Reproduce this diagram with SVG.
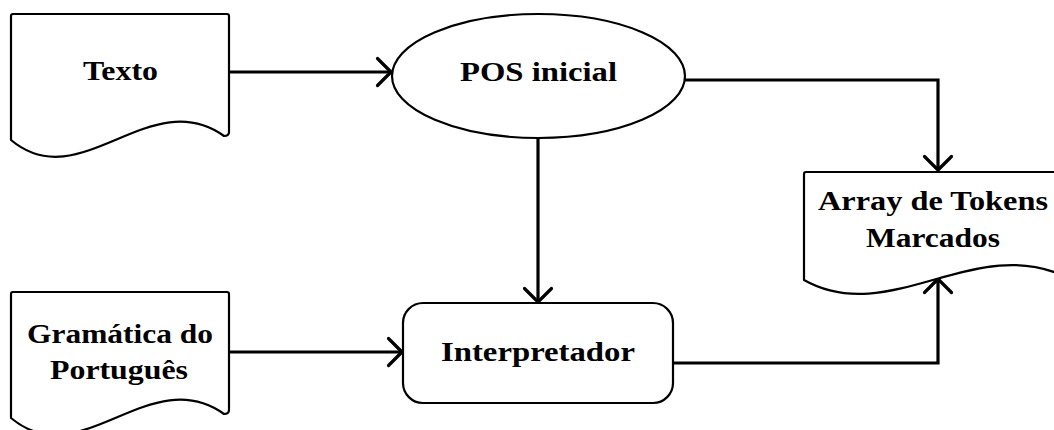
<svg xmlns="http://www.w3.org/2000/svg" width="1054" height="430" viewBox="0 0 1054 430">
<style>
.node{fill:#fff;stroke:#000;stroke-width:2.2;stroke-linejoin:round}
.lbl{font-family:"Liberation Serif","Times New Roman",serif;font-weight:bold;font-size:27px;fill:#000;text-anchor:middle}
.conn{fill:none;stroke:#000;stroke-width:3.2;stroke-linejoin:miter}
</style>
<defs>
<marker id="arr" markerUnits="userSpaceOnUse" markerWidth="40" markerHeight="40" viewBox="-20 -20 40 40" refX="0" refY="0" orient="auto" overflow="visible">
<path d="M-13.5,-13.5 L0,0 L-13.5,13.5" fill="none" stroke="#000" stroke-width="3.2" stroke-linecap="round" stroke-linejoin="round"/>
</marker>
</defs>
<rect width="1054" height="430" fill="#fff"/>
<g id="connectors">
<path class="conn" d="M229,72 H391" marker-end="url(#arr)"/>
<path class="conn" d="M685,80 H938 V170" marker-end="url(#arr)"/>
<path class="conn" d="M538,139 V302" marker-end="url(#arr)"/>
<path class="conn" d="M229,352 H402" marker-end="url(#arr)"/>
<path class="conn" d="M673,363 H938 V279" marker-end="url(#arr)"/>
</g>
<g id="texto">
<path class="node" d="M11,16 Q11,14 13,14 H227 Q229,14 229,16 V132 Q229,136 224,136 C150,83 80,198 11,140 Z"/>
<text class="lbl" x="120.5" y="80" textLength="75" lengthAdjust="spacingAndGlyphs">Texto</text>
</g>
<g id="pos">
<ellipse class="node" cx="538.5" cy="76" rx="146.5" ry="62"/>
<text class="lbl" x="538.5" y="81" textLength="157" lengthAdjust="spacingAndGlyphs">POS inicial</text>
</g>
<g id="array">
<path class="node" d="M804,174 Q804,172 806,172 H1072 V277 L1066,277 C975,233 889,328 804,280 Z"/>
<text class="lbl" x="933" y="210" textLength="230" lengthAdjust="spacingAndGlyphs">Array de Tokens</text>
<text class="lbl" x="933" y="247" textLength="134" lengthAdjust="spacingAndGlyphs">Marcados</text>
</g>
<g id="gramatica">
<path class="node" d="M11,294 Q11,292 13,292 H227 Q229,292 229,294 V410 Q229,414 224,414 C150,361 80,476 11,418 Z"/>
<text class="lbl" x="120" y="343" textLength="186" lengthAdjust="spacingAndGlyphs">Gramática do</text>
<text class="lbl" x="119" y="379" textLength="138" lengthAdjust="spacingAndGlyphs">Português</text>
</g>
<g id="interpretador">
<rect class="node" x="403" y="303" width="270" height="100" rx="20" ry="20"/>
<text class="lbl" x="538" y="361" textLength="194" lengthAdjust="spacingAndGlyphs">Interpretador</text>
</g>
</svg>
